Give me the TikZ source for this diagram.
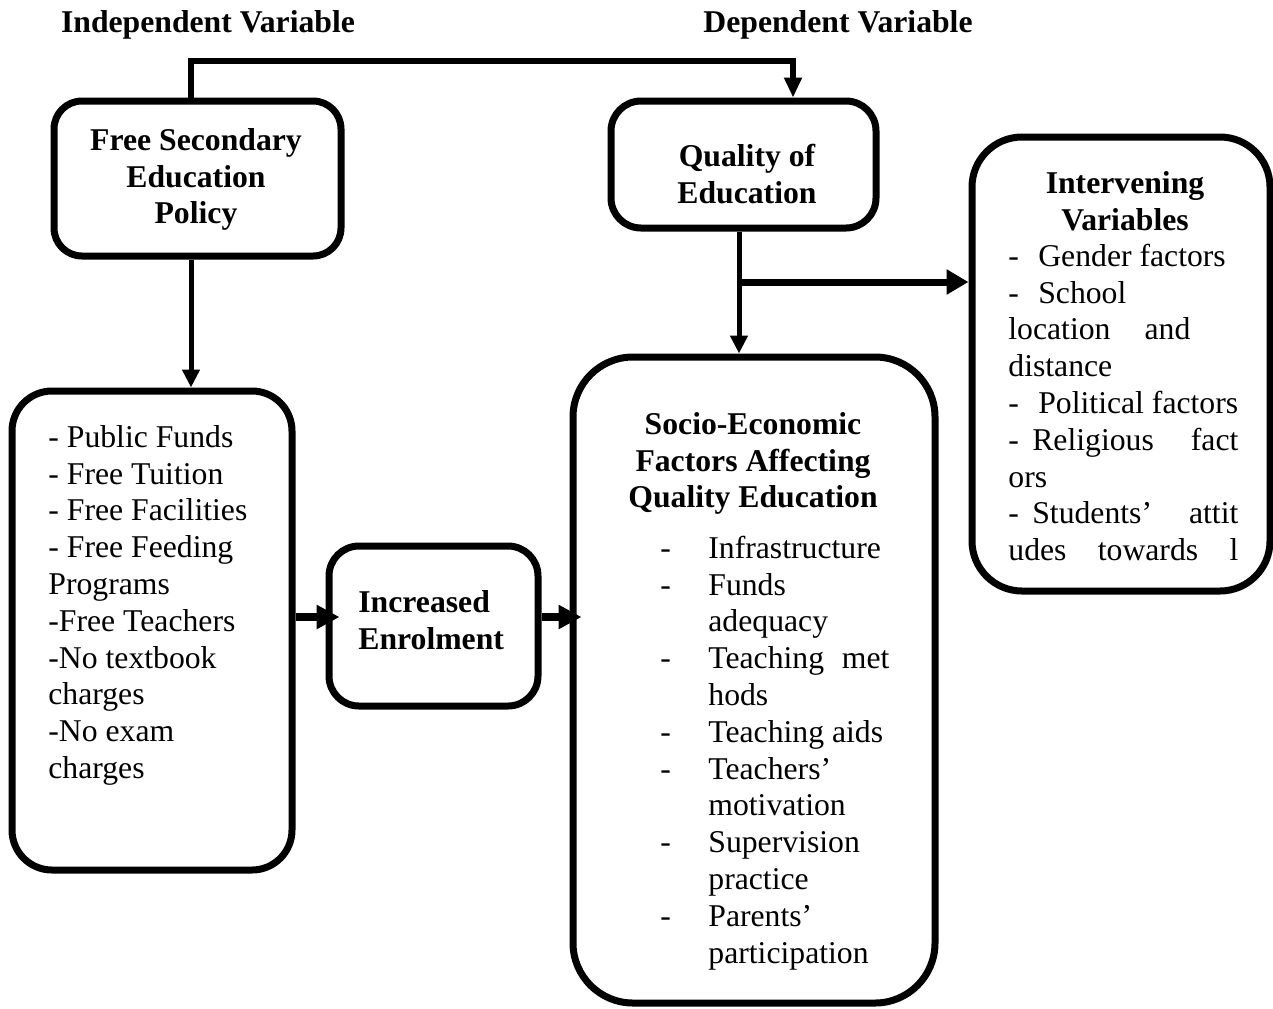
\documentclass[tikz,border=0pt]{standalone}
\usepackage{fontspec}
\setmainfont{Liberation Serif}
\usetikzlibrary{arrows.meta}
\newlength\pxu
\setlength\pxu{0.5pt}
\newcommand\fs{\fontsize{15.85pt}{18.4pt}\selectfont}
\newcommand\sst{\rule{0pt}{25.76\pxu}}
\begin{document}
\begin{tikzpicture}[x=0.5pt,y=-0.5pt,
  box/.style={draw, line width=3.5pt, inner sep=0pt},
  txt/.style={inner sep=0pt, font=\fs},
  btxt/.style={inner sep=0pt, font=\fs\bfseries},
  contop/.style={line width=3pt, -{Triangle[length=10pt,width=8.5pt]}},
  conthin/.style={line width=2.5pt, -{Triangle[length=9pt,width=8.5pt]}},
  conmid/.style={line width=3.5pt, -{Triangle[length=11pt,width=12pt]}},
  conthick/.style={line width=4pt, -{Triangle[length=11.5pt,width=11.5pt]}}]
\fill[white] (0,0) rectangle (1273,1008);
\useasboundingbox (0,0) rectangle (1273,1008);

% boxes
\node[box, minimum width=143.5pt, minimum height=77.5pt, rounded corners=14pt] (A) at (197.5,178.5) {};
\node[box, minimum width=132.5pt, minimum height=63.5pt, rounded corners=15pt] (B) at (743.5,164.5) {};
\node[box, minimum width=140pt, minimum height=239.5pt, rounded corners=20pt] (C) at (152,630.5) {};
\node[box, minimum width=104.5pt, minimum height=80pt, rounded corners=15pt] (D) at (433.5,626) {};
\node[box, minimum width=181pt, minimum height=323pt, rounded corners=30pt] (E) at (754,680) {};
\node[box, minimum width=149pt, minimum height=227pt, rounded corners=25pt] (F) at (1121,364) {};

% headers
\node[btxt, anchor=base] (h1) at (208,32) {Independent Variable};
\node[btxt, anchor=base] (h2) at (838,32) {Dependent Variable};

% texts
\node[btxt, anchor=north, align=center] (tA) at (196,124.2) {\sst Free Secondary\\Education\\Policy};
\node[btxt, anchor=north, align=center] (tB) at (747,140.2) {\sst Quality of\\Education};
\node[txt, anchor=north west, align=left] (tC) at (48,421.2) {\sst - Public Funds\\- Free Tuition\\- Free Facilities\\- Free Feeding\\Programs\\-Free Teachers\\-No textbook\\charges\\-No exam\\charges};
\node[btxt, anchor=north west, align=left] (tD) at (358,586.2) {\sst Increased\\Enrolment};
\node[btxt, anchor=north, align=center] (tE) at (753,408.2) {\sst Socio-Economic\\Factors Affecting\\Quality Education};
\node[txt, anchor=north west, align=left] (tE2) at (660,532.2) {\sst\makebox[48\pxu][l]{-}Infrastructure\\
\makebox[48\pxu][l]{-}Funds\\
\hspace*{48\pxu}adequacy\\
\makebox[48\pxu][l]{-}\makebox[181\pxu][s]{Teaching met}\\
\hspace*{48\pxu}hods\\
\makebox[48\pxu][l]{-}Teaching aids\\
\makebox[48\pxu][l]{-}Teachers’\\
\hspace*{48\pxu}motivation\\
\makebox[48\pxu][l]{-}Supervision\\
\hspace*{48\pxu}practice\\
\makebox[48\pxu][l]{-}Parents’\\
\hspace*{48\pxu}participation};
\node[btxt, anchor=north, align=center] (tF) at (1125,167.2) {\sst Intervening\\Variables};
\node[txt, anchor=north west, align=left] (tF2) at (1008,240.2) {\sst -\hspace{19.4\pxu}Gender factors\\
-\hspace{19.4\pxu}School\\
\makebox[182\pxu][s]{location and}\\
distance\\
-\hspace{19.4\pxu}Political factors\\
\makebox[230\pxu][l]{-\hspace{13.4\pxu}Religious\hfill fact}\\
ors\\
\makebox[230\pxu][l]{-\hspace{13.4\pxu}Students’\hfill attit}\\
\makebox[230\pxu][s]{udes towards l}};

% connectors
\coordinate (t1) at (191,61);
\coordinate (t2) at (793,61);
\draw[contop] (t1 |- A.north) -- (t1) -- (t2) -- (t2 |- B.north);
\draw[conthin] (t1 |- A.south) -- (t1 |- C.north);
\coordinate (v) at (739,282);
\draw[conthin] (v |- B.south) -- (v |- E.north);
\draw[conmid] (v) -- (v -| F.west);
\coordinate (hh) at (0,617);
\draw[conthick, shorten >=-7pt] (hh -| C.east) -- (hh -| D.west);
\draw[conthick, shorten >=-6pt] (hh -| D.east) -- (hh -| E.west);
\end{tikzpicture}
\end{document}
